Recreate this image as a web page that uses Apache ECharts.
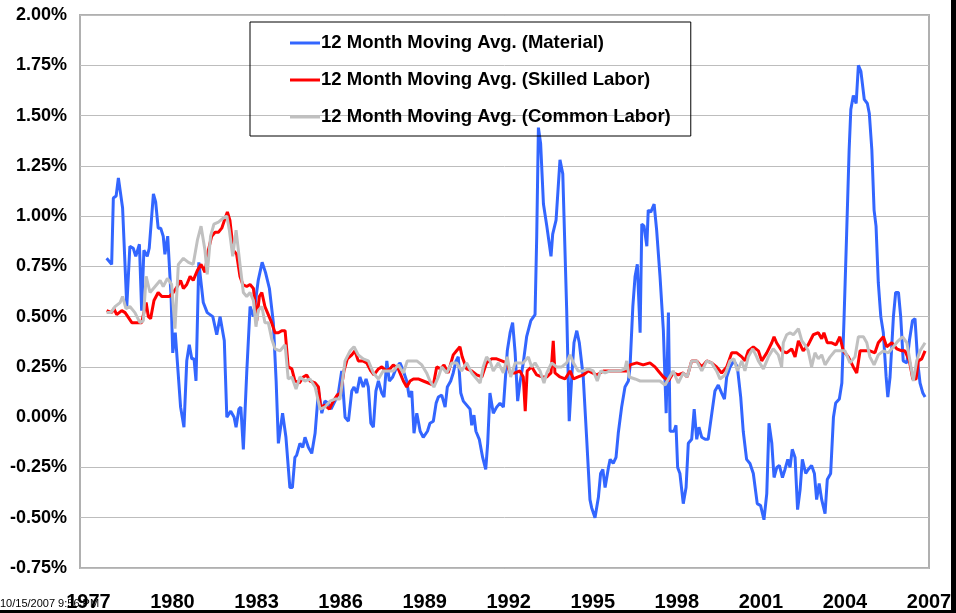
<!DOCTYPE html>
<html>
<head>
<meta charset="utf-8">
<script src="https://cdn.jsdelivr.net/npm/echarts@6/dist/echarts.min.js"></script>
<style>
  html, body { margin: 0; padding: 0; background: #fff; }
  #chart { width: 956px; height: 613px; }
</style>
</head>
<body>
<div id="chart"></div>
<script>
// x tick labels (years)
const yearTicks = [1977, 1980, 1983, 1986, 1989, 1992, 1995, 1998, 2001, 2004, 2007]

// 12 month moving avg, material (decimal year / %)
const materialYears = [
  1977.65, 1977.83, 1977.89, 1977.99, 1978.07, 1978.22, 1978.37, 1978.48, 1978.60, 1978.69,
  1978.82, 1978.90, 1978.98, 1979.10, 1979.17, 1979.32, 1979.40, 1979.49, 1979.58, 1979.67,
  1979.73, 1979.83, 1979.95, 1980.01, 1980.10, 1980.17, 1980.29, 1980.41, 1980.51, 1980.60,
  1980.69, 1980.77, 1980.84, 1980.94, 1981.10, 1981.24, 1981.44, 1981.58, 1981.70, 1981.85,
  1981.94, 1982.08, 1982.20, 1982.27, 1982.37, 1982.44, 1982.53, 1982.65, 1982.77, 1982.89,
  1983.06, 1983.20, 1983.32, 1983.46, 1983.60, 1983.70, 1983.78, 1983.93, 1984.05, 1984.19,
  1984.28, 1984.37, 1984.43, 1984.55, 1984.65, 1984.73, 1984.85, 1984.97, 1985.09, 1985.21,
  1985.33, 1985.44, 1985.56, 1985.66, 1985.80, 1985.92, 1986.04, 1986.16, 1986.28, 1986.40,
  1986.48, 1986.58, 1986.69, 1986.81, 1986.91, 1986.99, 1987.08, 1987.17, 1987.26, 1987.35,
  1987.47, 1987.55, 1987.65, 1987.74, 1987.86, 1988.00, 1988.12, 1988.24, 1988.36, 1988.45,
  1988.54, 1988.62, 1988.72, 1988.84, 1988.95, 1989.10, 1989.19, 1989.31, 1989.41, 1989.49,
  1989.61, 1989.73, 1989.81, 1989.93, 1990.02, 1990.12, 1990.20, 1990.29, 1990.38, 1990.50,
  1990.62, 1990.68, 1990.76, 1990.83, 1990.95, 1991.07, 1991.18, 1991.25, 1991.33, 1991.45,
  1991.57, 1991.69, 1991.81, 1991.95, 1992.05, 1992.14, 1992.23, 1992.32, 1992.40, 1992.52,
  1992.64, 1992.79, 1992.94, 1993.00, 1993.06, 1993.14, 1993.24, 1993.36, 1993.51, 1993.57,
  1993.69, 1993.83, 1993.93, 1994.07, 1994.16, 1994.25, 1994.33, 1994.43, 1994.52, 1994.66,
  1994.78, 1994.90, 1994.96, 1995.08, 1995.20, 1995.28, 1995.36, 1995.44, 1995.56, 1995.62,
  1995.73, 1995.83, 1995.91, 1996.03, 1996.15, 1996.27, 1996.33, 1996.43, 1996.51, 1996.59,
  1996.69, 1996.75, 1996.83, 1996.93, 1996.98, 1997.07, 1997.19, 1997.28, 1997.40, 1997.52,
  1997.58, 1997.62, 1997.70, 1997.76, 1997.90, 1997.97, 1998.03, 1998.11, 1998.23, 1998.33,
  1998.41, 1998.53, 1998.62, 1998.71, 1998.79, 1998.89, 1999.01, 1999.12, 1999.25, 1999.36,
  1999.48, 1999.60, 1999.70, 1999.78, 1999.90, 2000.04, 2000.16, 2000.28, 2000.37, 2000.49,
  2000.61, 2000.73, 2000.87, 2000.99, 2001.11, 2001.21, 2001.29, 2001.39, 2001.47, 2001.57,
  2001.66, 2001.77, 2001.86, 2001.96, 2002.04, 2002.12, 2002.22, 2002.31, 2002.40, 2002.48,
  2002.60, 2002.69, 2002.81, 2002.91, 2002.99, 2003.08, 2003.17, 2003.29, 2003.37, 2003.49,
  2003.59, 2003.67, 2003.80, 2003.89, 2003.97, 2004.06, 2004.15, 2004.21, 2004.30, 2004.40,
  2004.48, 2004.57, 2004.69, 2004.80, 2004.87, 2004.96, 2005.04, 2005.11, 2005.19, 2005.28,
  2005.37, 2005.47, 2005.53, 2005.61, 2005.73, 2005.81, 2005.91, 2005.99, 2006.08, 2006.21,
  2006.30, 2006.41, 2006.50, 2006.60, 2006.68, 2006.78, 2006.86
]
const materialValues = [
  0.79, 0.76, 1.09, 1.10, 1.19, 1.04, 0.55, 0.85, 0.84, 0.80,
  0.86, 0.53, 0.83, 0.80, 0.84, 1.11, 1.07, 0.94, 0.94, 0.90,
  0.81, 0.90, 0.60, 0.32, 0.42, 0.42, 0.05, -0.05, 0.28, 0.36,
  0.29, 0.29, 0.18, 0.77, 0.57, 0.52, 0.50, 0.41, 0.50, 0.38,
  0.00, 0.03, 0.00, -0.05, 0.04, 0.05, -0.16, 0.22, 0.55, 0.50,
  0.68, 0.77, 0.72, 0.64, 0.47, 0.18, -0.13, 0.02, -0.10, -0.35,
  -0.35, -0.20, -0.19, -0.13, -0.15, -0.10, -0.15, -0.18, -0.08, 0.13,
  0.02, 0.08, 0.07, 0.04, 0.08, 0.12, 0.23, 0.00, -0.02, 0.13,
  0.15, 0.12, 0.20, 0.15, 0.19, 0.15, -0.03, -0.05, 0.13, 0.18,
  0.12, 0.10, 0.28, 0.18, 0.20, 0.25, 0.27, 0.23, 0.18, 0.10,
  0.13, -0.08, 0.02, -0.07, -0.10, -0.07, -0.03, -0.02, 0.07, 0.10,
  0.11, 0.05, 0.15, 0.18, 0.22, 0.28, 0.30, 0.12, 0.08, 0.06,
  0.04, -0.04, 0.01, -0.07, -0.11, -0.20, -0.26, -0.13, 0.12, 0.02,
  0.05, 0.07, 0.05, 0.33, 0.42, 0.47, 0.32, 0.08, 0.17, 0.27,
  0.40, 0.48, 0.51, 0.90, 1.44, 1.36, 1.06, 0.95, 0.80, 0.91,
  0.98, 1.28, 1.21, 0.53, -0.02, 0.20, 0.37, 0.43, 0.37, 0.20,
  -0.10, -0.41, -0.45, -0.50, -0.40, -0.28, -0.26, -0.35, -0.25, -0.21,
  -0.23, -0.20, -0.08, 0.05, 0.15, 0.18, 0.25, 0.55, 0.70, 0.76,
  0.42, 0.96, 0.95, 0.85, 1.03, 1.02, 1.06, 0.93, 0.70, 0.43,
  0.18, 0.02, 0.52, -0.07, -0.07, -0.04, -0.25, -0.28, -0.43, -0.35,
  -0.13, -0.11, 0.04, -0.11, -0.05, -0.10, -0.11, -0.11, 0.02, 0.13,
  0.16, 0.12, 0.09, 0.20, 0.25, 0.28, 0.25, 0.10, -0.07, -0.21,
  -0.23, -0.28, -0.43, -0.44, -0.51, -0.38, -0.03, -0.13, -0.30, -0.25,
  -0.24, -0.30, -0.26, -0.21, -0.25, -0.16, -0.20, -0.46, -0.36, -0.21,
  -0.28, -0.26, -0.24, -0.28, -0.41, -0.33, -0.41, -0.48, -0.31, -0.28,
  0.00, 0.07, 0.09, 0.17, 0.50, 0.91, 1.33, 1.53, 1.60, 1.56,
  1.75, 1.72, 1.58, 1.56, 1.51, 1.33, 1.03, 0.95, 0.67, 0.50,
  0.42, 0.20, 0.10, 0.20, 0.50, 0.62, 0.62, 0.50, 0.28, 0.27,
  0.38, 0.48, 0.49, 0.27, 0.17, 0.12, 0.10
]

// 12 month moving avg, skilled labor
const skilledYears = [
  1977.65, 1977.83, 1977.91, 1978.01, 1978.19, 1978.31, 1978.55, 1978.72, 1978.90, 1979.06,
  1979.14, 1979.22, 1979.34, 1979.49, 1979.62, 1979.73, 1979.89, 1980.03, 1980.17, 1980.29,
  1980.39, 1980.51, 1980.63, 1980.74, 1980.89, 1981.02, 1981.16, 1981.28, 1981.40, 1981.52,
  1981.64, 1981.76, 1981.88, 1981.96, 1982.05, 1982.17, 1982.29, 1982.41, 1982.51, 1982.65,
  1982.77, 1982.89, 1983.01, 1983.10, 1983.19, 1983.30, 1983.54, 1983.66, 1983.78, 1983.90,
  1984.02, 1984.13, 1984.26, 1984.37, 1984.53, 1984.67, 1984.79, 1984.91, 1985.09, 1985.21,
  1985.29, 1985.44, 1985.60, 1985.74, 1985.88, 1986.00, 1986.12, 1986.24, 1986.40, 1986.51,
  1986.63, 1986.79, 1986.93, 1987.08, 1987.19, 1987.35, 1987.47, 1987.62, 1987.76, 1987.88,
  1988.06, 1988.24, 1988.36, 1988.48, 1988.60, 1988.77, 1988.95, 1989.13, 1989.31, 1989.43,
  1989.57, 1989.69, 1989.84, 1990.02, 1990.14, 1990.26, 1990.34, 1990.50, 1990.68, 1990.86,
  1991.04, 1991.21, 1991.39, 1991.57, 1991.75, 1991.93, 1992.05, 1992.23, 1992.40, 1992.52,
  1992.59, 1992.66, 1992.82, 1993.00, 1993.18, 1993.36, 1993.51, 1993.59, 1993.65, 1993.83,
  1994.01, 1994.19, 1994.31, 1994.48, 1994.66, 1994.84, 1995.14, 1995.38, 1995.62, 1995.85,
  1996.09, 1996.27, 1996.33, 1996.57, 1996.80, 1997.04, 1997.22, 1997.34, 1997.52, 1997.70,
  1997.87, 1998.05, 1998.23, 1998.37, 1998.53, 1998.71, 1998.89, 1999.07, 1999.24, 1999.42,
  1999.60, 1999.78, 1999.96, 2000.14, 2000.32, 2000.43, 2000.55, 2000.73, 2000.91, 2001.03,
  2001.21, 2001.39, 2001.47, 2001.56, 2001.74, 2001.92, 2002.10, 2002.22, 2002.34, 2002.51,
  2002.69, 2002.87, 2003.05, 2003.17, 2003.25, 2003.37, 2003.53, 2003.68, 2003.82, 2003.94,
  2004.12, 2004.30, 2004.42, 2004.54, 2004.72, 2004.89, 2005.07, 2005.19, 2005.37, 2005.49,
  2005.67, 2005.85, 2006.03, 2006.14, 2006.30, 2006.42, 2006.54, 2006.62, 2006.74, 2006.86
]
const skilledValues = [
  0.53, 0.52, 0.54, 0.51, 0.53, 0.52, 0.47, 0.47, 0.47, 0.57,
  0.50, 0.49, 0.58, 0.62, 0.60, 0.60, 0.60, 0.62, 0.65, 0.68,
  0.64, 0.66, 0.70, 0.68, 0.73, 0.76, 0.72, 0.83, 0.90, 0.92,
  0.92, 0.94, 0.99, 1.02, 0.98, 0.83, 0.81, 0.70, 0.66, 0.65,
  0.66, 0.64, 0.48, 0.60, 0.62, 0.55, 0.47, 0.42, 0.42, 0.43,
  0.43, 0.25, 0.24, 0.18, 0.17, 0.20, 0.21, 0.18, 0.17, 0.15,
  0.05, 0.06, 0.04, 0.08, 0.11, 0.12, 0.23, 0.29, 0.31, 0.33,
  0.28, 0.28, 0.27, 0.23, 0.21, 0.24, 0.25, 0.23, 0.24, 0.26,
  0.24, 0.18, 0.15, 0.18, 0.19, 0.19, 0.18, 0.17, 0.16, 0.25,
  0.24, 0.26, 0.22, 0.31, 0.33, 0.35, 0.30, 0.24, 0.23, 0.21,
  0.20, 0.27, 0.29, 0.29, 0.28, 0.27, 0.22, 0.22, 0.23, 0.20,
  0.03, 0.23, 0.25, 0.21, 0.20, 0.20, 0.22, 0.38, 0.22, 0.20,
  0.19, 0.23, 0.19, 0.20, 0.21, 0.23, 0.21, 0.23, 0.23, 0.23,
  0.23, 0.23, 0.26, 0.27, 0.26, 0.27, 0.25, 0.23, 0.20, 0.18,
  0.22, 0.21, 0.22, 0.20, 0.28, 0.28, 0.25, 0.28, 0.27, 0.25,
  0.22, 0.25, 0.32, 0.32, 0.30, 0.28, 0.33, 0.35, 0.33, 0.28,
  0.32, 0.37, 0.40, 0.37, 0.33, 0.32, 0.34, 0.30, 0.38, 0.33,
  0.36, 0.41, 0.42, 0.39, 0.42, 0.37, 0.37, 0.36, 0.40, 0.33,
  0.30, 0.25, 0.22, 0.33, 0.33, 0.33, 0.32, 0.37, 0.40, 0.35,
  0.37, 0.34, 0.33, 0.33, 0.28, 0.19, 0.19, 0.28, 0.29, 0.33
]

// 12 month moving avg, common labor
const commonYears = [
  1977.65, 1977.80, 1977.95, 1978.13, 1978.22, 1978.34, 1978.48, 1978.66, 1978.84, 1978.96,
  1979.06, 1979.20, 1979.38, 1979.56, 1979.67, 1979.82, 1979.97, 1980.09, 1980.21, 1980.39,
  1980.57, 1980.74, 1980.89, 1981.02, 1981.16, 1981.24, 1981.36, 1981.48, 1981.64, 1981.81,
  1981.94, 1982.03, 1982.15, 1982.27, 1982.41, 1982.53, 1982.65, 1982.77, 1982.89, 1982.98,
  1983.06, 1983.19, 1983.30, 1983.42, 1983.54, 1983.66, 1983.84, 1984.02, 1984.13, 1984.26,
  1984.41, 1984.55, 1984.73, 1984.91, 1985.09, 1985.27, 1985.44, 1985.62, 1985.80, 1985.98,
  1986.16, 1986.34, 1986.48, 1986.63, 1986.81, 1986.99, 1987.17, 1987.35, 1987.52, 1987.70,
  1987.88, 1988.06, 1988.24, 1988.38, 1988.54, 1988.72, 1988.90, 1989.07, 1989.19, 1989.33,
  1989.49, 1989.61, 1989.79, 1989.97, 1990.14, 1990.32, 1990.50, 1990.68, 1990.86, 1990.98,
  1991.09, 1991.21, 1991.33, 1991.45, 1991.63, 1991.81, 1991.95, 1992.07, 1992.23, 1992.40,
  1992.52, 1992.70, 1992.82, 1992.94, 1993.12, 1993.26, 1993.36, 1993.53, 1993.71, 1993.89,
  1994.07, 1994.19, 1994.31, 1994.48, 1994.66, 1994.84, 1995.02, 1995.16, 1995.28, 1995.44,
  1995.62, 1995.79, 1995.97, 1996.15, 1996.21, 1996.30, 1996.51, 1996.69, 1996.86, 1997.04,
  1997.22, 1997.40, 1997.58, 1997.70, 1997.87, 1998.05, 1998.23, 1998.37, 1998.53, 1998.71,
  1998.89, 1999.07, 1999.24, 1999.42, 1999.54, 1999.72, 1999.90, 2000.04, 2000.16, 2000.32,
  2000.43, 2000.55, 2000.71, 2000.85, 2000.91, 2001.09, 2001.27, 2001.44, 2001.62, 2001.74,
  2001.80, 2001.92, 2002.04, 2002.16, 2002.34, 2002.46, 2002.57, 2002.69, 2002.81, 2002.93,
  2003.05, 2003.17, 2003.29, 2003.47, 2003.65, 2003.82, 2004.00, 2004.18, 2004.36, 2004.48,
  2004.66, 2004.78, 2004.89, 2005.04, 2005.19, 2005.37, 2005.55, 2005.73, 2005.90, 2006.06,
  2006.21, 2006.32, 2006.44, 2006.56, 2006.68, 2006.86
]
const commonValues = [
  0.52, 0.52, 0.55, 0.57, 0.60, 0.54, 0.55, 0.52, 0.47, 0.48,
  0.70, 0.62, 0.65, 0.68, 0.65, 0.69, 0.66, 0.44, 0.76, 0.79,
  0.77, 0.76, 0.88, 0.95, 0.83, 0.71, 0.90, 0.96, 0.97, 0.99,
  1.00, 0.93, 0.80, 0.93, 0.76, 0.62, 0.60, 0.62, 0.58, 0.45,
  0.53, 0.55, 0.47, 0.47, 0.39, 0.34, 0.33, 0.36, 0.19, 0.20,
  0.14, 0.20, 0.18, 0.19, 0.15, 0.04, 0.05, 0.08, 0.09, 0.09,
  0.28, 0.33, 0.35, 0.31, 0.29, 0.28, 0.22, 0.19, 0.23, 0.23,
  0.23, 0.26, 0.22, 0.28, 0.28, 0.28, 0.26, 0.22, 0.18, 0.15,
  0.20, 0.25, 0.22, 0.27, 0.27, 0.23, 0.27, 0.22, 0.19, 0.17,
  0.25, 0.30, 0.28, 0.23, 0.27, 0.22, 0.30, 0.20, 0.27, 0.27,
  0.27, 0.30, 0.25, 0.27, 0.23, 0.17, 0.22, 0.27, 0.25, 0.25,
  0.27, 0.31, 0.27, 0.23, 0.23, 0.24, 0.23, 0.18, 0.23, 0.22,
  0.23, 0.23, 0.23, 0.24, 0.28, 0.20, 0.19, 0.18, 0.18, 0.18,
  0.18, 0.18, 0.16, 0.19, 0.23, 0.17, 0.22, 0.20, 0.28, 0.28,
  0.23, 0.28, 0.27, 0.23, 0.19, 0.21, 0.28, 0.29, 0.23, 0.28,
  0.23, 0.30, 0.34, 0.30, 0.28, 0.24, 0.30, 0.34, 0.31, 0.25,
  0.37, 0.41, 0.42, 0.41, 0.44, 0.38, 0.36, 0.33, 0.25, 0.32,
  0.29, 0.31, 0.26, 0.30, 0.33, 0.33, 0.33, 0.27, 0.30, 0.40,
  0.40, 0.37, 0.30, 0.26, 0.31, 0.33, 0.32, 0.35, 0.38, 0.40,
  0.37, 0.28, 0.18, 0.28, 0.33, 0.37
]

const font = 'Liberation Sans, Arial, sans-serif'
const pair = (xs, ys) => xs.map((x, i) => [x, ys[i]])

const chart = echarts.init(document.getElementById('chart'), null, {renderer: 'canvas'})

// gridline colours by tick index, the 0.00% line is not drawn
const splitColors = ['#bdbdbd', '#bdbdbd', '#bdbdbd', 'rgba(0,0,0,0)', '#bdbdbd', '#bdbdbd',
  '#bdbdbd', '#bdbdbd', '#bdbdbd', '#bdbdbd', '#bdbdbd', '#bdbdbd']

const option = {
  animation: false,
  backgroundColor: '#fff',
  grid: {
    left: 80, right: 27, top: 15, bottom: 45,
    show: true, borderColor: '#b0b0b0', borderWidth: 2
  },
  legend: {
    orient: 'vertical',
    left: 250, top: 22,
    padding: [11, 20, 9, 40],
    itemWidth: 30, itemHeight: 3, itemGap: 17,
    icon: 'rect',
    borderColor: '#000', borderWidth: 1,
    textStyle: {fontFamily: font, fontSize: 18.5, fontWeight: 'bold', color: '#000', lineHeight: 20,
      padding: [0, 0, 0, -4]},
    data: ['12 Month Moving Avg. (Material)', '12 Month Moving Avg. (Skilled Labor)', '12 Month Moving Avg. (Common Labor)']
  },
  xAxis: {
    type: 'value',
    min: 1976.7, max: 2007,
    axisLine: {show: false},
    axisTick: {show: false},
    splitLine: {show: false},
    axisLabel: {
      customValues: yearTicks,
      margin: 24,
      fontFamily: font, fontSize: 20, fontWeight: 'bold', color: '#000',
      formatter: v => String(v)
    }
  },
  yAxis: {
    type: 'value',
    min: -0.75, max: 2, interval: 0.25,
    axisLine: {show: false},
    axisTick: {show: false},
    splitLine: {lineStyle: {color: splitColors, width: 1}},
    axisLabel: {
      margin: 13,
      fontFamily: font, fontSize: 18, fontWeight: 'bold', color: '#000',
      formatter: v => v.toFixed(2) + '%'
    }
  },
  series: [
    {
      name: '12 Month Moving Avg. (Material)', type: 'line',
      data: pair(materialYears, materialValues),
      showSymbol: false, color: '#3366ff',
      lineStyle: {width: 3, color: '#3366ff'}
    },
    {
      name: '12 Month Moving Avg. (Skilled Labor)', type: 'line',
      data: pair(skilledYears, skilledValues),
      showSymbol: false, color: '#ff0000',
      lineStyle: {width: 3, color: '#ff0000'}
    },
    {
      name: '12 Month Moving Avg. (Common Labor)', type: 'line',
      data: pair(commonYears, commonValues),
      showSymbol: false, color: '#c0c0c0',
      lineStyle: {width: 3, color: '#c0c0c0'}
    }
  ],
  graphic: [
    {type: 'text', left: 0, top: 598, z: 10,
      style: {text: '10/15/2007 9:56 PM', font: '11px Liberation Sans, Arial, sans-serif', fill: '#000'}},
    {type: 'rect', shape: {x: 951, y: 0, width: 5, height: 613}, style: {fill: '#000'}, z: 10},
    {type: 'rect', shape: {x: 0, y: 610, width: 956, height: 3}, style: {fill: '#000'}, z: 10}
  ]
}

chart.setOption(option)
</script>
</body>
</html>
